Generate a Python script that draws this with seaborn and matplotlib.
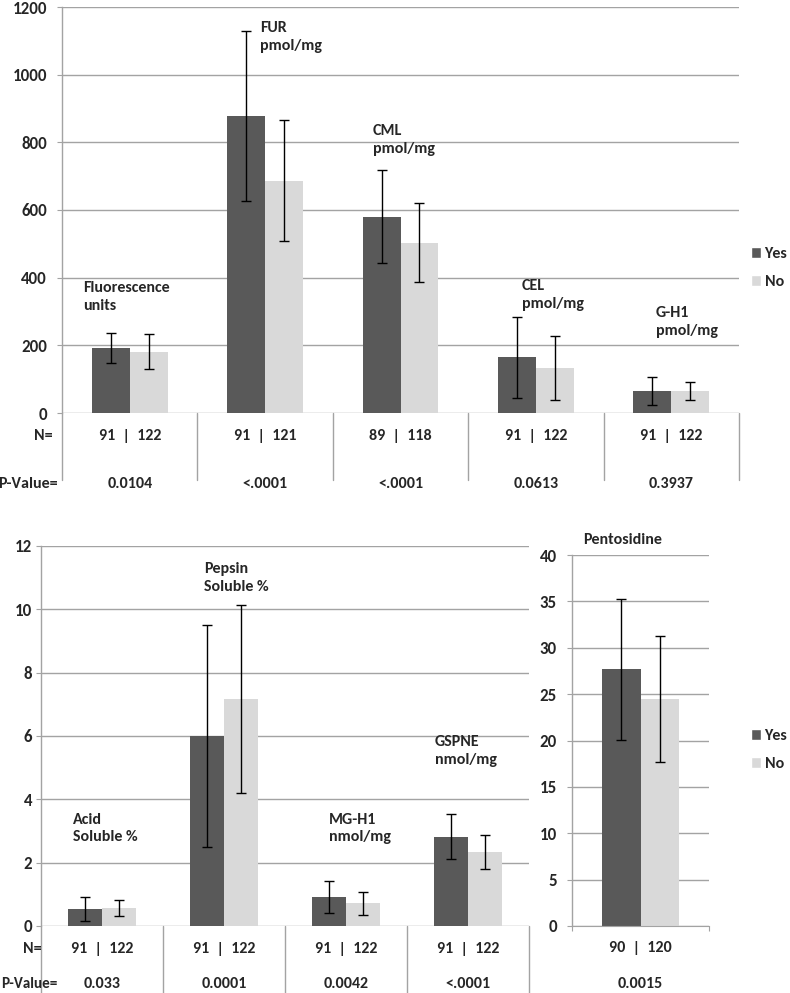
import numpy as np
import pandas as pd
import matplotlib
matplotlib.use("Agg")
import matplotlib.pyplot as plt
from matplotlib.patches import Patch
import seaborn as sns

# ---- data: upper chart ----
top_names = ["Fluorescence\nunits", "FUR\npmol/mg", "CML\npmol/mg", "CEL\npmol/mg", "G-H1\npmol/mg"]
top_yes = [192, 878, 580, 165, 65]
top_yes_sd = [43, 252, 138, 120, 42]
top_no = [181, 686, 503, 133, 64]
top_no_sd = [52, 179, 117, 95, 27]
top_n = ["91  |  122", "91  |  121", "89  |  118", "91  |  122", "91  |  122"]
top_p = ["0.0104", "<.0001", "<.0001", "0.0613", "0.3937"]
top_ticks = [0, 200, 400, 600, 800, 1000, 1200]

# ---- data: lower left chart ----
low_names = ["Acid\nSoluble %", "Pepsin\nSoluble %", "MG-H1\nnmol/mg", "GSPNE\nnmol/mg"]
low_yes = [0.54, 6.0, 0.92, 2.82]
low_yes_sd = [0.38, 3.52, 0.50, 0.71]
low_no = [0.57, 7.17, 0.72, 2.33]
low_no_sd = [0.25, 2.96, 0.36, 0.54]
low_n = ["91  |  122", "91  |  122", "91  |  122", "91  |  122"]
low_p = ["0.033", "0.0001", "0.0042", "<.0001"]
low_ticks = [0, 2, 4, 6, 8, 10, 12]

# ---- data: pentosidine ----
pen_names = ["Pentosidine"]
pen_yes = [27.7]
pen_yes_sd = [7.6]
pen_no = [24.5]
pen_no_sd = [6.8]
pen_n = ["90  |  120"]
pen_p = ["0.0015"]
pen_ticks = [0, 5, 10, 15, 20, 25, 30, 35, 40]

groups = ["Yes", "No"]

# layout of the in-plot labels: (offset from category centre, y in data units)
top_label_pos = [(-0.345, 343), (-0.038, 1111), (-0.203, 807), (-0.103, 349), (-0.113, 269)]
low_label_pos = [(-0.238, 3.09), (-0.164, 10.99), (-0.139, 3.09), (-0.27, 5.53)]
pen_label_pos = [(-0.42, 41.6)]

DARK = "#595959"
LIGHT = "#d9d9d9"
GRID = "#a3a3a3"
FS = 11.5
TICK_FS = 12.2

sns.set_style("white")
plt.rcParams["font.family"] = ["Carlito", "DejaVu Sans"]
plt.rcParams["font.weight"] = "bold"


def long_frame(names, yes, yes_sd, no, no_sd):
    rows = []
    for i, name in enumerate(names):
        rows.append({"marker": name, "group": "Yes", "mean": yes[i], "sd": yes_sd[i]})
        rows.append({"marker": name, "group": "No", "mean": no[i], "sd": no_sd[i]})
    return pd.DataFrame(rows)


def draw_panel(ax, names, yes, yes_sd, no, no_sd, ticks, label_pos, tick_pad):
    df = long_frame(names, yes, yes_sd, no, no_sd)
    sns.barplot(data=df, x="marker", y="mean", hue="group", hue_order=groups,
                order=names, palette=[DARK, LIGHT], width=0.56, gap=0,
                errorbar=None, legend=False, saturation=1, linewidth=0, ax=ax)
    # error bars at bar centres
    for cont, level in zip(ax.containers, groups):
        sub = df[df["group"] == level].set_index("marker").loc[names]
        xs = [p.get_x() + p.get_width() / 2 for p in cont.patches]
        ax.errorbar(xs, sub["mean"].values, yerr=sub["sd"].values, fmt="none",
                    ecolor="black", elinewidth=1, capsize=3.5, capthick=1, zorder=5)
    ax.set_ylim(ticks[0], ticks[-1])
    ax.set_xlim(-0.5, len(names) - 0.5)
    ax.set_yticks(ticks)
    ax.set_yticklabels([str(t) for t in ticks], fontweight="bold")
    ax.set_xticks([])
    ax.set_xlabel("")
    ax.set_ylabel("")
    ax.yaxis.grid(True, color=GRID, linewidth=1)
    ax.set_axisbelow(True)
    ax.tick_params(axis="y", length=3.6, color=GRID, pad=tick_pad, left=True,
                   labelsize=TICK_FS)
    for side in ["top", "right", "bottom"]:
        ax.spines[side].set_visible(False)
    ax.spines["left"].set_color(GRID)
    ax.spines["left"].set_linewidth(1)
    for i, name in enumerate(names):
        dx, y = label_pos[i]
        ax.text(i + dx, y, name, fontsize=FS, fontweight="bold", ha="left",
                va="center", linespacing=1.3, clip_on=False)


def draw_table(ax, n_text, p_text, n_y, p_y, line_bottom, dividers=True):
    tr = ax.get_xaxis_transform()
    for i in range(len(n_text)):
        ax.text(i, n_y, n_text[i], transform=tr, ha="center", va="center",
                fontsize=FS, fontweight="bold")
        ax.text(i, p_y, p_text[i], transform=tr, ha="center", va="center",
                fontsize=FS, fontweight="bold")
    if dividers:
        for b in np.arange(len(n_text) + 1) - 0.5:
            ax.plot([b, b], [0, line_bottom], transform=tr, color=GRID,
                    linewidth=1, clip_on=False)


W, H = 790, 993
fig = plt.figure(figsize=(W / 100, H / 100), dpi=100)

ax_top = fig.add_axes([62 / W, 1 - 413 / H, 677 / W, 406 / H])
draw_panel(ax_top, top_names, top_yes, top_yes_sd, top_no, top_no_sd,
           top_ticks, top_label_pos, 7.2)
draw_table(ax_top, top_n, top_p, -0.0567, -0.175, -0.165)

ax_low = fig.add_axes([41 / W, 1 - 926 / H, 488 / W, 380 / H])
draw_panel(ax_low, low_names, low_yes, low_yes_sd, low_no, low_no_sd,
           low_ticks, low_label_pos, 2.8)
draw_table(ax_low, low_n, low_p, -0.0605, -0.153, -0.18)

ax_pen = fig.add_axes([572 / W, 1 - 926 / H, 137 / W, 371 / H])
draw_panel(ax_pen, pen_names, pen_yes, pen_yes_sd, pen_no, pen_no_sd,
           pen_ticks, pen_label_pos, 7.2)
draw_table(ax_pen, pen_n, pen_p, -0.059, -0.156, 0, dividers=False)
ax_pen.spines["bottom"].set_visible(True)
ax_pen.spines["bottom"].set_color(GRID)
ax_pen.set_xticks([-0.5, 0.5])
ax_pen.set_xticklabels(["", ""])
ax_pen.tick_params(axis="x", length=3.6, color=GRID, bottom=True, direction="out")

# row headers of the little tables
fig.text(53 / W, 1 - 436 / H, "N=", ha="right", va="center", fontsize=FS, fontweight="bold")
fig.text(58 / W, 1 - 484 / H, "P-Value=", ha="right", va="center", fontsize=FS, fontweight="bold")
fig.text(42 / W, 1 - 949 / H, "N=", ha="right", va="center", fontsize=FS, fontweight="bold")
fig.text(1 / W, 1 - 984 / H, "P-Value=", ha="left", va="center", fontsize=FS * 0.95, fontweight="bold")

handles = [Patch(facecolor=DARK, label="Yes"), Patch(facecolor=LIGHT, label="No")]
for cy in [268, 750]:
    fig.legend(handles=handles, loc="center left", bbox_to_anchor=(751 / W, 1 - cy / H),
               frameon=False, handlelength=0.65, handleheight=0.65,
               handletextpad=0.2, labelspacing=0.85, borderpad=0, borderaxespad=0,
               prop={"family": "Carlito", "weight": "bold", "size": FS})

fig.savefig("out.png", dpi=100)
